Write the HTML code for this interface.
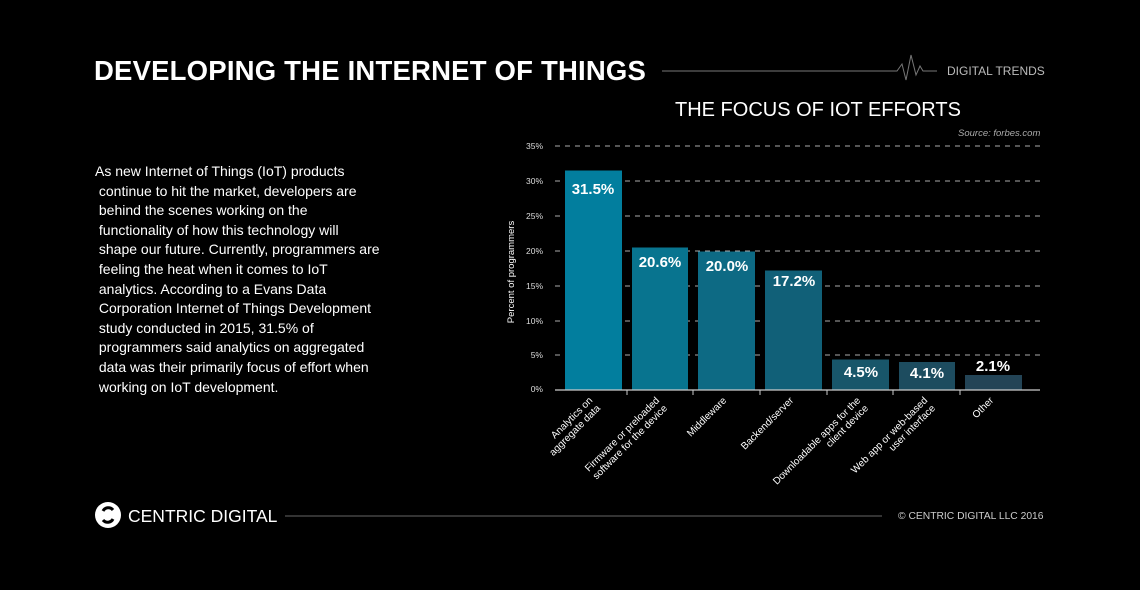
<!DOCTYPE html>
<html><head><meta charset="utf-8"><style>
body{margin:0;width:1140px;height:590px;background:#000;overflow:hidden;font-family:"Liberation Sans","DejaVu Sans",sans-serif;color:#fff}
.a{position:absolute}
</style></head><body>
<div class="a" style="left:94px;top:55px;font-size:27.5px;font-weight:bold;letter-spacing:0.2px;white-space:nowrap">DEVELOPING THE INTERNET OF THINGS</div>
<div class="a" style="left:947px;top:64px;font-size:12px;color:#bbb;white-space:nowrap">DIGITAL TRENDS</div>
<div class="a" style="left:675px;top:99px;font-size:20px;color:#fff;white-space:nowrap">THE FOCUS OF IOT EFFORTS</div>
<div class="a" style="left:958px;top:128px;font-size:9.5px;font-style:italic;color:#aaa">Source: forbes.com</div>
<div class="a" style="left:95px;top:162px;width:320px;font-size:14px;line-height:19.6px;color:#fff;white-space:nowrap">As new Internet of Things (IoT) products<br>&nbsp;continue to hit the market, developers are<br>&nbsp;behind the scenes working on the<br>&nbsp;functionality of how this technology will<br>&nbsp;shape our future. Currently, programmers are<br>&nbsp;feeling the heat when it comes to IoT<br>&nbsp;analytics. According to a Evans Data<br>&nbsp;Corporation Internet of Things Development<br>&nbsp;study conducted in 2015, 31.5% of<br>&nbsp;programmers said analytics on aggregated<br>&nbsp;data was their primarily focus of effort when<br>&nbsp;working on IoT development.</div>
<svg class="a" style="left:0;top:0" width="1140" height="590">
<line x1="662" y1="71" x2="892" y2="71" stroke="#777" stroke-width="1"/>
<polyline points="892,71 897,71 902,64 906,80 911,55 916,75 920,66 923,71 937,71" fill="none" stroke="#777" stroke-width="1"/>
<g stroke="#aaa" stroke-dasharray="5,5" stroke-width="1">
<line x1="555" y1="146" x2="1040" y2="146"/><line x1="555" y1="181" x2="1040" y2="181"/><line x1="555" y1="216" x2="1040" y2="216"/><line x1="555" y1="251" x2="1040" y2="251"/><line x1="555" y1="286" x2="1040" y2="286"/><line x1="555" y1="321" x2="1040" y2="321"/><line x1="555" y1="355" x2="1040" y2="355"/>
</g>
<g font-size="8.5" fill="#ddd" text-anchor="end">
<text x="543" y="149">35%</text><text x="543" y="184">30%</text><text x="543" y="219">25%</text><text x="543" y="254">20%</text><text x="543" y="289">15%</text><text x="543" y="324">10%</text><text x="543" y="358">5%</text><text x="543" y="392">0%</text>
</g>
<text transform="translate(514,272) rotate(-90)" font-size="9.5" fill="#fff" text-anchor="middle">Percent of programmers</text>
<rect x="565" y="170.5" width="57" height="219.5" fill="#027e9e"/>
<rect x="632" y="247.5" width="56" height="142.5" fill="#08748f"/>
<rect x="698" y="251.5" width="57" height="138.5" fill="#0d6a84"/>
<rect x="765" y="270.5" width="57" height="119.5" fill="#116078"/>
<rect x="832" y="359.5" width="57" height="30.5" fill="#18566a"/>
<rect x="899" y="362" width="56" height="28" fill="#1d4c5f"/>
<rect x="965" y="375" width="57" height="15" fill="#234456"/>
<line x1="555" y1="390" x2="1040" y2="390" stroke="#ccc" stroke-width="1.2"/>
<g stroke="#ccc"><line x1="627" y1="390" x2="627" y2="395"/><line x1="693" y1="390" x2="693" y2="395"/><line x1="760" y1="390" x2="760" y2="395"/><line x1="827" y1="390" x2="827" y2="395"/><line x1="893" y1="390" x2="893" y2="395"/><line x1="960" y1="390" x2="960" y2="395"/></g>
<g font-size="15" fill="#fff" text-anchor="middle" font-weight="bold">
<text x="593" y="194">31.5%</text><text x="660" y="267">20.6%</text><text x="727" y="271">20.0%</text><text x="794" y="286">17.2%</text><text x="861" y="377">4.5%</text><text x="927" y="378">4.1%</text><text x="993" y="371">2.1%</text>
</g>
<g font-size="10" fill="#fff" text-anchor="end">
<text transform="translate(593,401) rotate(-45)"><tspan x="0" dy="0">Analytics on</tspan><tspan x="0" dy="11">aggregate data</tspan></text>
<text transform="translate(660,401) rotate(-45)"><tspan x="0" dy="0">Firmware or preloaded</tspan><tspan x="0" dy="11">software for the device</tspan></text>
<text transform="translate(727,401) rotate(-45)">Middleware</text>
<text transform="translate(794,401) rotate(-45)">Backend/server</text>
<text transform="translate(861,401) rotate(-45)"><tspan x="0" dy="0">Downloadable apps for the</tspan><tspan x="0" dy="11">client device</tspan></text>
<text transform="translate(928,401) rotate(-45)"><tspan x="0" dy="0">Web app or web-based</tspan><tspan x="0" dy="11">user interface</tspan></text>
<text transform="translate(994,401) rotate(-45)">Other</text>
</g>
<circle cx="108" cy="515" r="13" fill="#fff"/>
<path d="M103,511 A6,6 0 0 1 113,510" stroke="#000" stroke-width="3" fill="none"/>
<path d="M113,519 A6,6 0 0 1 103,520" stroke="#000" stroke-width="3" fill="none"/>
<text x="128" y="522" font-size="17.5" fill="#fff">CENTRIC DIGITAL</text>
<line x1="285" y1="516" x2="882" y2="516" stroke="#666"/>
<text x="898" y="519" font-size="10.3" fill="#ccc">© CENTRIC DIGITAL LLC 2016</text>
</svg>
</body></html>
